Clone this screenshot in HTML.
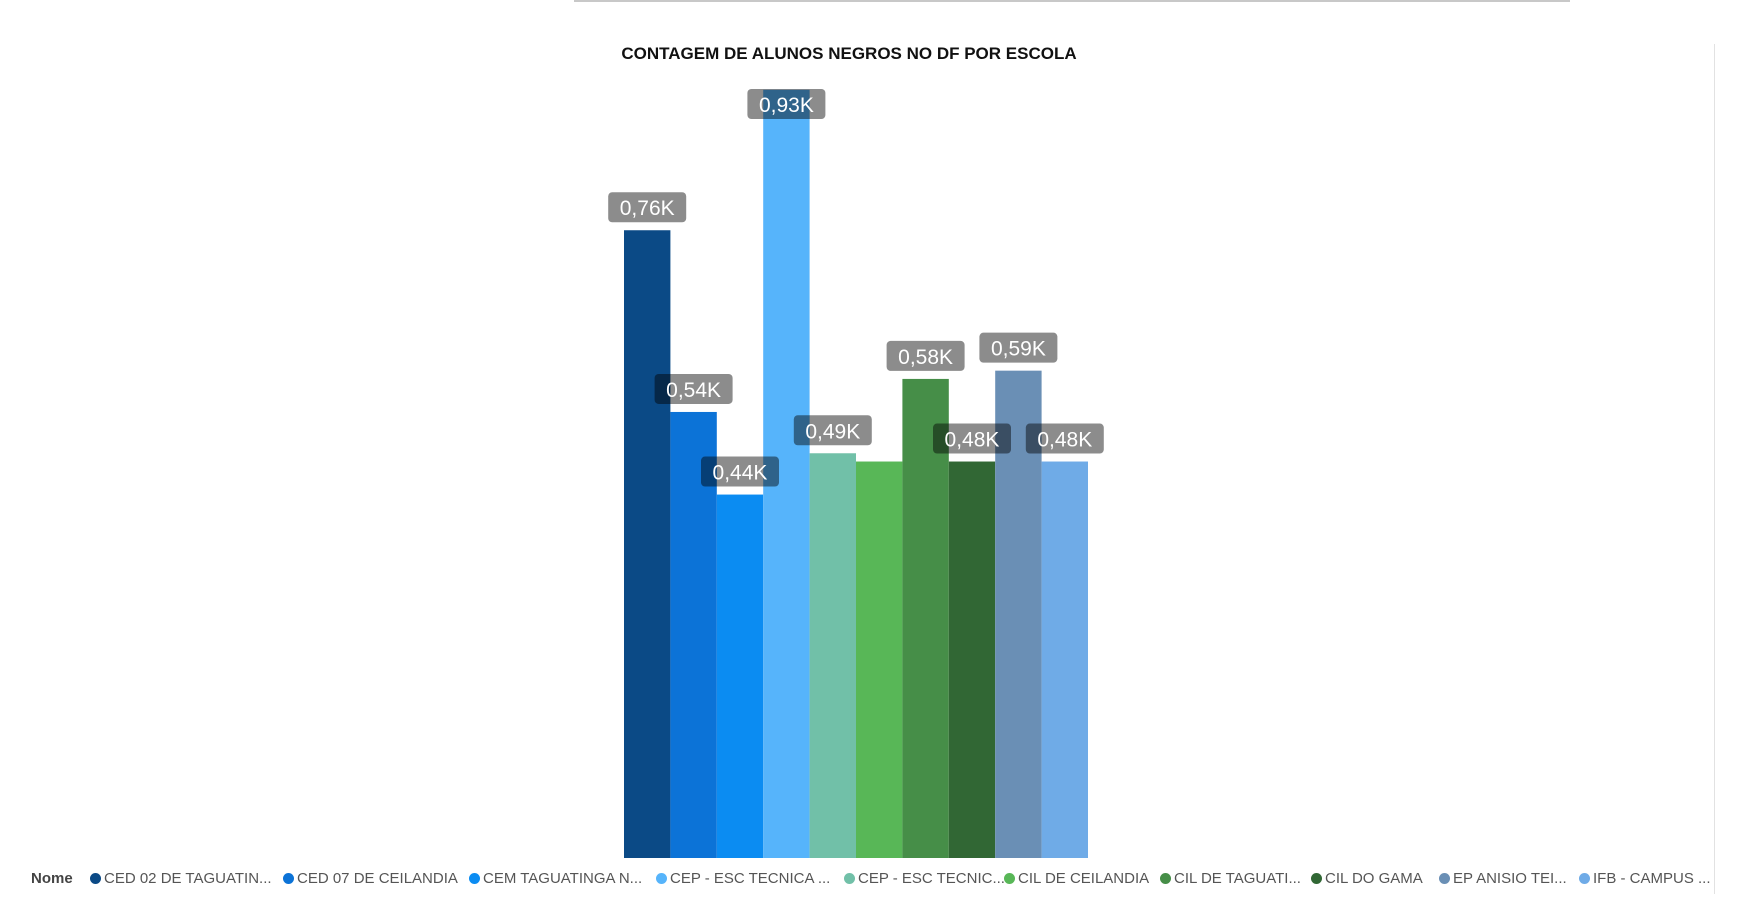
<!DOCTYPE html>
<html><head><meta charset="utf-8"><style>
html,body{margin:0;padding:0;background:#fff;width:1748px;height:903px;overflow:hidden;font-family:"Liberation Sans",sans-serif;}
#topline{position:absolute;left:574px;top:0;width:996px;height:2px;background:#c8c8c8;}
#title{position:absolute;left:0;width:1698px;top:44px;text-align:center;font-weight:bold;font-size:17px;color:#111;}
#scroll{position:absolute;left:1714px;top:44px;width:1px;height:850px;background:#e2e2e2;}
#legend{position:absolute;top:870px;left:0;width:1748px;height:22px;font-size:15px;color:#555;}
.li{position:absolute;white-space:nowrap;}
.dot{display:inline-block;width:11px;height:11px;border-radius:50%;margin-right:3px;vertical-align:-1px;}
</style></head><body>
<div id="topline"></div>
<div id="title">CONTAGEM DE ALUNOS NEGROS NO DF POR ESCOLA</div>
<div id="scroll"></div>
<svg id="chart" width="1748" height="903" style="position:absolute;left:0;top:0"></svg>
<div id="legend">
<span class="li" style="left:31px;font-weight:bold;color:#444">Nome</span>
</div>
<script>
const categories=["CED 02 DE TAGUATIN...","CED 07 DE CEILANDIA","CEM TAGUATINGA N...","CEP - ESC TECNICA ...","CEP - ESC TECNIC...","CIL DE CEILANDIA","CIL DE TAGUATI...","CIL DO GAMA","EP ANISIO TEI...","IFB - CAMPUS ..."];
const values=[0.76,0.54,0.44,0.93,0.49,0.48,0.58,0.48,0.59,0.48];
const labels=["0,76K","0,54K","0,44K","0,93K","0,49K","","0,58K","0,48K","0,59K","0,48K"];
const colors=["#0b4a86","#0c73d7","#0b8cf2","#56b4fb","#71c0a8","#58b757","#468e48","#316734","#6a8fb5","#6fabe7"];
const legendX=[90,283,469,656,844,1004,1160,1311,1439,1579];
const NS="http://www.w3.org/2000/svg";
const svg=document.getElementById('chart');
const x0=624,bw=46.4,base=858,perK=826,minTop=89;
const xS=i=>x0+i*bw;
const yS=v=>base-v*perK;
values.forEach((v,i)=>{
  const r=document.createElementNS(NS,'rect');
  r.setAttribute('x',xS(i));r.setAttribute('y',yS(v));
  r.setAttribute('width',bw);r.setAttribute('height',base-yS(v));
  r.setAttribute('fill',colors[i]);
  
  
  svg.appendChild(r);
});
values.forEach((v,i)=>{
  if(!labels[i])return;
  const cx=xS(i)+bw/2;
  const bt=Math.max(minTop,yS(v)-38);
  const g=document.createElementNS(NS,'g');
  
  
  const b=document.createElementNS(NS,'rect');
  b.setAttribute('x',cx-39);b.setAttribute('y',bt);b.setAttribute('width',78);b.setAttribute('height',30);
  b.setAttribute('rx',4);b.setAttribute('fill','rgba(0,0,0,0.45)');
  g.appendChild(b);
  const t=document.createElementNS(NS,'text');
  t.setAttribute('x',cx);t.setAttribute('y',bt+23);t.setAttribute('text-anchor','middle');
  t.setAttribute('fill','#fff');t.setAttribute('font-size','21');t.setAttribute('font-family','Liberation Sans, sans-serif');
  t.textContent=labels[i];
  g.appendChild(t);
  svg.appendChild(g);
});
const leg=document.getElementById('legend');
categories.forEach((c,i)=>{
  const s=document.createElement('span');
  s.className='li';s.style.left=legendX[i]+'px';
  
  
  s.innerHTML='<span class="dot" style="background:'+colors[i]+'"></span>'+c;
  leg.appendChild(s);
});
</script>
</body></html>
